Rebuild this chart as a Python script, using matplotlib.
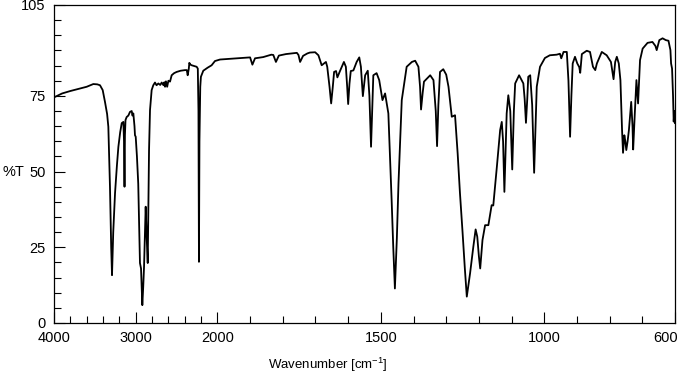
import numpy as np
import matplotlib
matplotlib.use("Agg")
import matplotlib.pyplot as plt
from matplotlib.ticker import FixedLocator, NullFormatter, FixedFormatter
from matplotlib.transforms import ScaledTranslation

plt.rcParams["font.family"] = ["Liberation Sans", "DejaVu Sans"]
plt.rcParams["mathtext.fontset"] = "custom"
plt.rcParams["mathtext.rm"] = "Liberation Sans"
plt.rcParams["mathtext.default"] = "regular"

# IR spectrum (wavenumber cm-1, %T)
wavenumber = [
    4000, 3900, 3800, 3700, 3600, 3519, 3470, 3437, 3404, 3376, 3350, 3335,
    3315, 3300, 3290, 3275, 3253, 3230, 3212, 3190, 3171, 3151, 3143, 3137,
    3132, 3125, 3111, 3090, 3070, 3049, 3040, 3029, 3015, 3009, 3000, 2985,
    2969, 2948, 2935, 2925, 2919, 2908, 2898, 2878, 2866, 2853, 2837, 2825,
    2805, 2785, 2764, 2745, 2723, 2700, 2682, 2660, 2650, 2641, 2630, 2615,
    2600, 2580, 2560, 2530, 2499, 2450, 2397, 2375, 2364, 2350, 2344, 2330,
    2315, 2280, 2254, 2240, 2232, 2226, 2220, 2210, 2202, 2173, 2120, 2071,
    2030, 1992, 1940, 1900, 1893, 1885, 1860, 1835, 1829, 1821, 1812, 1790,
    1757, 1752, 1747, 1738, 1725, 1717, 1701, 1691, 1681, 1668, 1664, 1657,
    1652, 1647, 1643, 1637, 1633, 1625, 1613, 1607, 1603, 1600, 1596, 1592,
    1584, 1574, 1566, 1561, 1555, 1548, 1540, 1535, 1530, 1526, 1523, 1513,
    1505, 1495, 1487, 1477, 1467, 1462, 1457, 1451, 1446, 1436, 1421, 1405,
    1395, 1385, 1380, 1377, 1372, 1368, 1349, 1339, 1332, 1328, 1324, 1319,
    1309, 1300, 1293, 1283, 1273, 1265, 1258, 1250, 1243, 1237, 1227, 1217,
    1210, 1205, 1200, 1196, 1189, 1181, 1171, 1161, 1156, 1145, 1135, 1130,
    1126, 1122, 1118, 1115, 1110, 1104, 1098, 1093, 1089, 1077, 1064, 1060,
    1056, 1052, 1049, 1043, 1037, 1031, 1026, 1023, 1013, 998, 983, 962,
    952, 948, 941, 931, 926, 921, 917, 913, 906, 899, 893, 890,
    885, 870, 860, 851, 844, 839, 824, 809, 796, 788, 783, 778,
    772, 767, 762, 759, 755, 752, 749, 745, 741, 734, 730, 728,
    723, 718, 713, 710, 707, 699, 684, 669, 660, 656, 650, 648,
    638, 628, 620, 614, 612, 609, 606, 604, 602, 600,
]
transmittance = [
    74.5, 75.8, 76.6, 77.3, 78.0, 78.9, 78.8, 78.5, 76.9, 73.0, 69.0, 64.8,
    45.0, 25.0, 15.8, 30.0, 42.9, 52.0, 58.2, 63.0, 66.0, 66.4, 60.0, 45.0,
    62.0, 67.0, 68.0, 68.5, 69.7, 70.0, 68.5, 69.2, 65.0, 62.0, 61.5, 55.0,
    46.0, 19.8, 18.0, 10.0, 5.9, 12.0, 18.6, 38.4, 28.5, 19.8, 57.0, 70.3,
    76.9, 78.5, 79.4, 78.5, 79.1, 78.6, 79.4, 78.5, 79.5, 78.0, 79.8, 78.0,
    80.0, 79.7, 81.8, 82.5, 82.9, 83.3, 83.5, 83.5, 81.8, 84.0, 85.9, 85.3,
    85.1, 84.8, 84.6, 84.0, 70.0, 20.2, 60.0, 78.0, 81.3, 83.3, 84.3, 85.1,
    86.5, 87.0, 87.4, 87.7, 85.3, 87.4, 87.8, 88.6, 88.5, 86.2, 88.3, 88.8,
    89.2, 88.5, 86.2, 88.2, 89.0, 89.3, 89.4, 88.4, 85.1, 86.2, 84.6, 78.0,
    72.5, 78.0, 82.9, 83.2, 81.1, 83.2, 86.2, 84.6, 78.0, 72.3, 79.0, 83.2,
    83.4, 86.2, 87.7, 84.6, 74.9, 81.8, 83.3, 75.0, 58.2, 72.0, 81.8, 82.5,
    80.2, 73.6, 75.8, 69.2, 40.6, 25.0, 11.4, 28.0, 46.2, 73.6, 84.6, 86.2,
    86.6, 84.6, 78.0, 70.5, 76.0, 79.7, 81.8, 80.2, 70.0, 58.4, 72.0, 82.9,
    83.8, 82.0, 78.0, 68.1, 68.6, 56.0, 43.0, 30.0, 18.0, 8.7, 16.4, 25.2,
    30.9, 28.5, 22.0, 18.0, 27.4, 32.3, 32.3, 38.9, 38.8, 51.6, 63.7, 66.4,
    60.0, 43.3, 58.0, 69.2, 75.2, 70.0, 50.7, 70.0, 79.1, 81.8, 79.1, 74.0,
    66.1, 74.0, 81.3, 81.8, 72.0, 49.6, 68.0, 78.0, 84.6, 87.5, 88.4, 88.6,
    88.9, 87.4, 89.5, 89.5, 80.0, 61.5, 75.0, 85.7, 87.9, 85.7, 84.5, 82.6,
    88.8, 89.9, 89.5, 84.6, 83.5, 85.7, 89.5, 88.4, 86.2, 80.5, 86.2, 87.9,
    85.7, 80.2, 63.7, 56.2, 62.0, 60.0, 57.1, 60.0, 63.7, 73.0, 65.0, 57.3,
    69.2, 80.2, 72.5, 80.0, 86.8, 90.6, 92.5, 92.8, 91.5, 90.1, 92.5, 93.4,
    94.0, 93.4, 93.2, 90.1, 85.7, 84.0, 75.0, 66.5, 70.0, 66.0,
]

x_major = [4000, 3000, 2000, 1500, 1000, 600]
x_minor = list(range(4000, 2000, -200)) + list(range(2000, 599, -100))
y_major = [0, 25, 50, 75, 105]
y_minor = list(range(0, 106, 5))


# wavenumber axis: 4000-2000 compressed 4x relative to 2000-600
def fwd(x):
    x = np.asarray(x, dtype=float)
    return np.where(x > 2000, 2000 + (x - 2000) / 4.0, x)


def inv(u):
    u = np.asarray(u, dtype=float)
    return np.where(u > 2000, 2000 + (u - 2000) * 4.0, u)


fig = plt.figure(figsize=(6.83, 3.76), dpi=100)
ax = fig.add_axes([54 / 683, 1 - 323 / 376, 621 / 683, 318 / 376])
ax.set_xscale("function", functions=(fwd, inv))
ax.plot(wavenumber, transmittance, color="black", lw=1.3)

ax.set_xlim(4000, 600)
ax.set_ylim(0, 105)

ax.xaxis.set_major_locator(FixedLocator(x_major))
ax.xaxis.set_major_formatter(FixedFormatter([str(v) for v in x_major]))
ax.xaxis.set_minor_locator(FixedLocator(x_minor))
ax.xaxis.set_minor_formatter(NullFormatter())
ax.yaxis.set_major_locator(FixedLocator(y_major))
ax.yaxis.set_minor_locator(FixedLocator(y_minor))

ax.tick_params(which="both", direction="in", top=False, right=False,
               width=0.8, labelsize=10.5)
ax.tick_params(which="major", length=8)
ax.tick_params(which="minor", length=5)
ax.tick_params(axis="x", which="major", pad=6)
ax.tick_params(axis="y", which="major", pad=6)
for s in ax.spines.values():
    s.set_linewidth(0.9)

# keep "600" inside the figure like the original
fig.canvas.draw()
last = ax.xaxis.get_major_ticks()[-1].label1
last.set_transform(last.get_transform()
                   + ScaledTranslation(-9 / 100, 0, fig.dpi_scale_trans))

fig.text(13 / 683, 1 - 172 / 376, "%T", fontsize=10.5, ha="center", va="center")
fig.text(328 / 683, 1 - 365 / 376, r"Wavenumber [cm$^{-1}$]", fontsize=9.5,
         ha="center", va="center")

fig.savefig("out.png", dpi=100)
